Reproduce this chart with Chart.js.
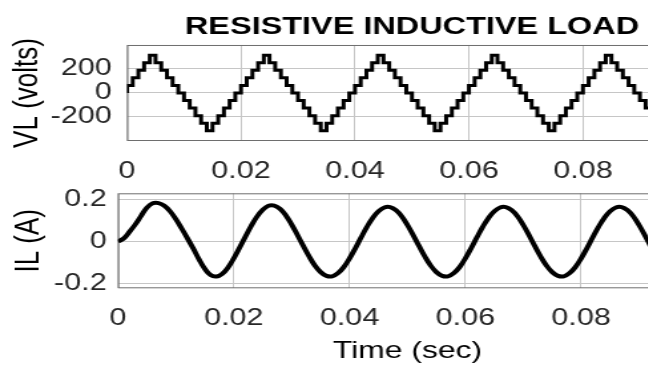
<!DOCTYPE html>
<html>
<head>
<meta charset="utf-8">
<script src="https://cdn.jsdelivr.net/npm/chart.js"></script>
<style>
  html, body { margin: 0; padding: 0; background: #fff; width: 648px; height: 369px; overflow: hidden; }
  /* the reference picture is stretched sideways, so the canvases are too */
  canvas { position: absolute; left: 0; transform: scaleX(1.33); transform-origin: 0 0; }
  #vl-chart { top: 0; }
  #il-chart { top: 185px; }
</style>
</head>
<body>
<canvas id="vl-chart" width="524" height="190"></canvas>
<canvas id="il-chart" width="524" height="184"></canvas>
<script>
// load voltage: one level per 1 ms step (staircase)
const VL_STEP = 0.001;
const vlStart = 0;
const vlLevels = [
  63, 126, 189, 252, 315, 252, 189, 126, 63, 0, -63, -126, -189, -252, -315, -252, -189, -126, -63, 0,
  63, 126, 189, 252, 315, 252, 189, 126, 63, 0, -63, -126, -189, -252, -315, -252, -189, -126, -63, 0,
  63, 126, 189, 252, 315, 252, 189, 126, 63, 0, -63, -126, -189, -252, -315, -252, -189, -126, -63, 0,
  63, 126, 189, 252, 315, 252, 189, 126, 63, 0, -63, -126, -189, -252, -315, -252, -189, -126, -63, 0,
  63, 126, 189, 252, 315, 252, 189, 126, 63, 0, -63, -126, -189
];

// load current, sampled every 1 ms
const IL_STEP = 0.001;
const ilValues = [
  0, 0.016, 0.048, 0.083, 0.124, 0.163, 0.184, 0.185, 0.172, 0.146,
  0.108, 0.063, 0.016, -0.033, -0.085, -0.130, -0.160, -0.167, -0.154, -0.124,
  -0.080, -0.029, 0.024, 0.075, 0.120, 0.153, 0.172, 0.173, 0.157, 0.126,
  0.082, 0.032, -0.020, -0.070, -0.114, -0.146, -0.164, -0.166, -0.151, -0.122,
  -0.080, -0.031, 0.021, 0.071, 0.114, 0.146, 0.164, 0.166, 0.151, 0.122,
  0.080, 0.031, -0.021, -0.071, -0.114, -0.146, -0.164, -0.166, -0.151, -0.122,
  -0.080, -0.031, 0.021, 0.071, 0.114, 0.146, 0.164, 0.166, 0.151, 0.122,
  0.080, 0.031, -0.021, -0.071, -0.114, -0.146, -0.164, -0.166, -0.151, -0.122,
  -0.080, -0.031, 0.021, 0.071, 0.114, 0.146, 0.164, 0.166, 0.151, 0.122,
  0.080, 0.031, -0.021
];

const timeTicks = [0, 0.02, 0.04, 0.06, 0.08];
const vlTicks = [-200, 0, 200];
const ilTicks = [-0.2, 0, 0.2];

const FONT = "'Liberation Sans', Arial, Helvetica, sans-serif";
const GRID = '#c6c6c6';
const BOX = '#6e6e6e';
const TICK_TEXT = '#262626';

Chart.defaults.font.family = FONT;

const vlData = [{ x: 0, y: vlStart }].concat(vlLevels.map((v, i) => ({ x: i * VL_STEP, y: v })));
const ilData = ilValues.map((v, i) => ({ x: i * IL_STEP, y: v }));

// axes box (MATLAB style)
const boxPlugin = {
  id: 'box',
  beforeDatasetsDraw(chart) {
    const { ctx, chartArea: a } = chart;
    ctx.save();
    ctx.strokeStyle = BOX;
    ctx.lineWidth = 1;
    ctx.strokeRect(a.left + 0.5, a.top + 0.5, a.right - a.left - 1, a.bottom - a.top - 1);
    ctx.restore();
  }
};

function fixSize(key, size) {
  return function(s) {
    s[key] = size;
    s.paddingLeft = 0;
    s.paddingRight = 0;
    s.paddingTop = 0;
    s.paddingBottom = 0;
  };
}

function useTicks(values) {
  return function(s) {
    s.ticks = values.map(v => ({ value: v }));
  };
}

function xAxis(height, pad, title) {
  return {
    type: 'linear',
    min: 0,
    max: 0.1,
    afterBuildTicks: useTicks(timeTicks),
    afterFit: fixSize('height', height),
    grid: { color: GRID, drawTicks: false },
    border: { display: false },
    ticks: {
      callback: v => String(v),
      color: TICK_TEXT,
      font: { size: 23 },
      padding: pad,
      maxRotation: 0,
      autoSkip: false
    },
    title: title
  };
}

function yAxis(min, max, tickValues, width, pad, text, titlePad) {
  return {
    min: min,
    max: max,
    afterBuildTicks: useTicks(tickValues),
    afterFit: fixSize('width', width),
    grid: { color: GRID, drawTicks: false },
    border: { display: false },
    ticks: {
      callback: v => String(v),
      color: TICK_TEXT,
      font: { size: 23 },
      padding: pad,
      autoSkip: false
    },
    title: {
      display: true,
      text: text,
      color: '#000',
      font: { size: 26 },
      padding: { top: titlePad, bottom: 0 }
    }
  };
}

new Chart(document.getElementById('vl-chart'), {
  type: 'line',
  data: {
    datasets: [{
      data: vlData,
      borderColor: '#000',
      borderWidth: 3,
      pointRadius: 0,
      stepped: true,
      fill: false
    }]
  },
  options: {
    responsive: false,
    animation: false,
    devicePixelRatio: 1,
    layout: { padding: 0 },
    plugins: {
      legend: { display: false },
      tooltip: { enabled: false },
      title: {
        display: true,
        text: 'RESISTIVE INDUCTIVE LOAD',
        fullSize: false,
        color: '#000',
        font: { size: 24.4, weight: 'bold' },
        padding: { top: 12.6, bottom: 3.1 }
      }
    },
    scales: {
      x: xAxis(49, 16.4, { display: false }),
      y: yAxis(-400, 400, vlTicks, 95.5, 11.5, 'VL (volts)', 5.5)
    }
  },
  plugins: [boxPlugin]
});

new Chart(document.getElementById('il-chart'), {
  type: 'line',
  data: {
    datasets: [{
      data: ilData,
      borderColor: '#000',
      borderWidth: 4,
      pointRadius: 0,
      tension: 0.4,
      fill: false
    }]
  },
  options: {
    responsive: false,
    animation: false,
    devicePixelRatio: 1,
    layout: { padding: { top: 8.3, left: 0, right: 0, bottom: 0 } },
    plugins: {
      legend: { display: false },
      tooltip: { enabled: false },
      title: { display: false }
    },
    scales: {
      x: xAxis(80.7, 16.2, {
        display: true,
        text: 'Time (sec)',
        color: '#000',
        font: { size: 24 },
        padding: { top: 0, bottom: 2.9 }
      }),
      y: yAxis(-0.2235, 0.232, ilTicks, 88.7, 8.5, 'IL (A)', 6.2)
    }
  },
  plugins: [boxPlugin]
});
</script>
</body>
</html>
